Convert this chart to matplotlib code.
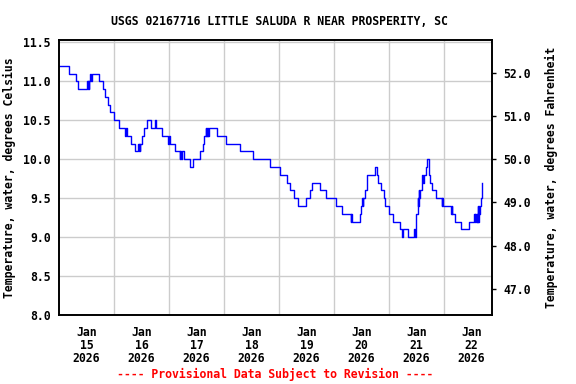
import datetime as dt
import matplotlib
matplotlib.use("Agg")
import matplotlib.pyplot as plt

# (hours after 2026-01-15 00:00, new reading in deg C) at each change of the reading
readings = [
    (0, 11.2), (4.25, 11.1), (7.25, 11.0), (8.5, 10.9),
    (12.25, 11.0), (12.5, 10.9), (12.75, 11.0), (13.0, 10.9), (13.25, 11.0),
    (13.75, 11.1), (14.0, 11.0), (14.25, 11.1),
    (17.25, 11.0), (19.25, 10.9), (20.0, 10.8), (21.5, 10.7), (22.25, 10.6),
    (24.0, 10.5), (26.0, 10.4), (29.0, 10.3), (29.25, 10.4), (29.5, 10.3),
    (31.5, 10.2), (33.0, 10.1), (34.5, 10.2), (34.75, 10.1), (35.0, 10.2),
    (35.25, 10.1), (35.5, 10.2), (36.25, 10.3), (37.0, 10.4), (38.5, 10.5),
    (40.0, 10.4), (42.0, 10.5), (42.25, 10.4),
    (45.0, 10.3), (47.75, 10.2), (48.0, 10.3), (48.25, 10.2),
    (50.5, 10.1), (52.75, 10.0), (53.0, 10.1), (53.25, 10.0), (53.5, 10.1),
    (54.75, 10.0), (57.0, 9.9), (58.5, 10.0), (61.5, 10.1), (63.0, 10.2),
    (63.5, 10.3), (64.0, 10.4), (64.25, 10.3), (64.5, 10.4), (64.75, 10.3),
    (65.0, 10.4), (65.25, 10.3), (65.5, 10.4),
    (69.0, 10.3), (72.75, 10.2), (79.0, 10.1), (84.5, 10.0), (92.25, 9.9),
    (96.5, 9.8), (99.5, 9.7), (101.0, 9.6), (102.5, 9.5), (104.25, 9.4),
    (107.75, 9.5), (109.75, 9.6), (110.5, 9.7), (114.0, 9.6), (116.5, 9.5),
    (120.75, 9.4), (123.5, 9.3), (127.25, 9.2), (127.5, 9.3), (128.0, 9.2),
    (131.25, 9.3), (132.0, 9.4), (132.25, 9.5), (132.5, 9.4), (132.75, 9.5),
    (133.5, 9.6), (134.25, 9.8), (138.0, 9.9), (138.75, 9.8), (139.25, 9.7),
    (140.5, 9.6), (141.75, 9.5), (142.5, 9.4), (144.25, 9.3), (146.0, 9.2),
    (149.0, 9.1), (149.5, 9.0), (150.25, 9.1), (152.5, 9.0), (155.0, 9.1),
    (155.25, 9.0), (156.0, 9.3), (156.5, 9.5), (156.75, 9.4), (157.0, 9.6),
    (157.25, 9.5), (157.5, 9.6), (158.25, 9.8), (159.0, 9.7), (159.25, 9.8),
    (160.0, 9.9), (160.75, 10.0), (161.5, 9.8), (162.0, 9.7), (162.75, 9.6),
    (164.75, 9.5), (167.0, 9.4), (167.25, 9.5), (167.5, 9.4),
    (171.25, 9.3), (171.5, 9.4), (171.75, 9.3), (173.0, 9.2), (175.25, 9.1),
    (179.0, 9.2), (181.25, 9.3), (181.5, 9.2), (181.75, 9.3), (182.0, 9.2),
    (182.25, 9.3), (182.5, 9.2), (182.75, 9.4), (183.0, 9.2), (183.25, 9.4),
    (183.5, 9.3), (183.75, 9.4), (184.25, 9.5), (184.75, 9.7),
]

start = dt.datetime(2026, 1, 15)
day_labels = ["Jan\n15\n2026", "Jan\n16\n2026", "Jan\n17\n2026", "Jan\n18\n2026",
              "Jan\n19\n2026", "Jan\n20\n2026", "Jan\n21\n2026", "Jan\n22\n2026"]
c_ticks = [8.0, 8.5, 9.0, 9.5, 10.0, 10.5, 11.0, 11.5]
f_ticks = [47.0, 48.0, 49.0, 50.0, 51.0, 52.0]

title = "USGS 02167716 LITTLE SALUDA R NEAR PROSPERITY, SC"
note = "---- Provisional Data Subject to Revision ----"

plt.rcParams["font.family"] = "DejaVu Sans Mono"
plt.rcParams["font.weight"] = "bold"
fs = 8.3

times = [start + dt.timedelta(hours=h) for h, _ in readings]
temps_c = [v for _, v in readings]

fig = plt.figure(figsize=(5.76, 3.84), dpi=100)
ax = fig.add_axes([0.1024, 0.1797, 0.7518, 0.7161])

ax.plot(times, temps_c, drawstyle="steps-post", color="#0000ff", lw=1.0)

ax.set_ylim(8.0, 11.53)
ax.set_yticks(c_ticks)
ax.set_yticklabels(["%.1f" % v for v in c_ticks], fontsize=fs, fontweight="bold")
ax.tick_params(axis="y", length=0, pad=6)

ax.set_xlim(start, start + dt.timedelta(days=7, hours=21))
ax.set_xticks([start + dt.timedelta(days=i) for i in range(1, 8)])
ax.set_xticklabels([])
ax.set_xticks([start + dt.timedelta(days=i, hours=12) for i in range(8)], minor=True)
ax.set_xticklabels(day_labels, minor=True, fontsize=fs, fontweight="bold",
                   linespacing=0.98)
ax.tick_params(axis="x", which="major", length=0)
ax.tick_params(axis="x", which="minor", length=0, pad=8)

ax.grid(True, which="major", color="#cccccc", lw=1.0)
ax.set_axisbelow(True)
for s in ax.spines.values():
    s.set_linewidth(1.2)

ax.set_ylabel("Temperature, water, degrees Celsius", fontsize=fs, fontweight="bold",
              labelpad=5)

ax2 = ax.twinx()
lo, hi = ax.get_ylim()
ax2.set_ylim(lo * 1.8 + 32, hi * 1.8 + 32)
ax2.set_yticks(f_ticks)
ax2.set_yticklabels(["%.1f" % v for v in f_ticks], fontsize=fs, fontweight="bold")
ax2.tick_params(axis="y", length=3, width=1, pad=5)
ax2.set_ylabel("Temperature, water, degrees Fahrenheit", fontsize=fs,
               fontweight="bold", labelpad=10)
for s in ax2.spines.values():
    s.set_linewidth(1.2)

fig.text(0.485, 0.945, title, ha="center", va="center", fontsize=fs,
         fontweight="bold")
fig.text(0.478, 0.024, note, ha="center", va="center", fontsize=fs,
         fontweight="bold", color="#ff0000")

fig.savefig("out.png", dpi=100)
